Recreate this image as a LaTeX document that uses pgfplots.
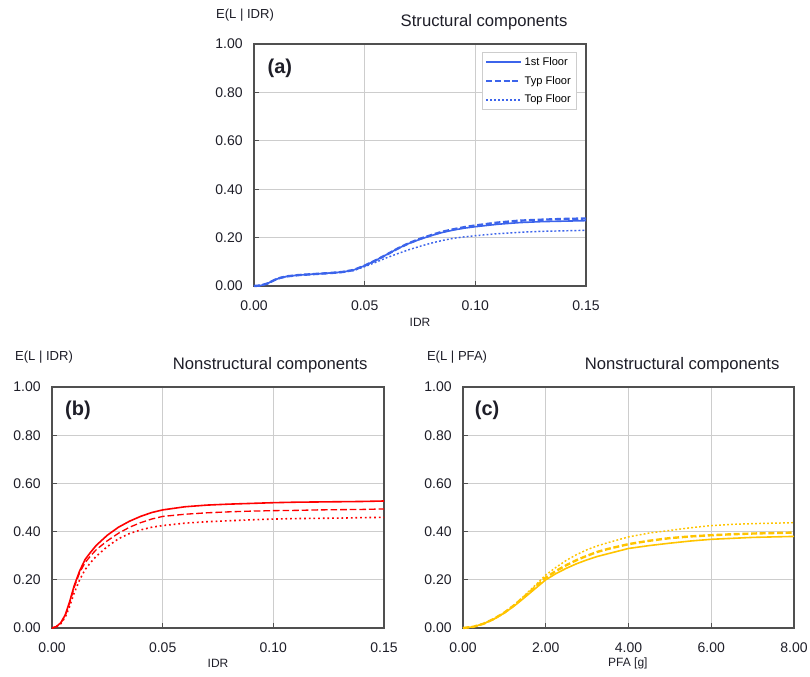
\documentclass[border=0pt]{standalone}
\usepackage{pgfplots}
\usepackage{pgfplotstable}
\pgfplotsset{compat=1.18}
\usepackage{fontspec}
\setmainfont{Liberation Sans}

\definecolor{sblue}{RGB}{60,100,235}
\definecolor{nred}{RGB}{255,0,0}
\definecolor{pyel}{RGB}{255,196,0}
\definecolor{gridgray}{RGB}{205,205,205}
\definecolor{axgray}{RGB}{80,80,80}
\definecolor{txt}{RGB}{30,30,40}

% structural, IDR
\pgfplotstableread{
x      first  typ    top
0      0      0      0
0.003  0.002  0.002  0.002
0.006  0.010  0.010  0.010
0.008  0.019  0.019  0.019
0.010  0.028  0.028  0.028
0.012  0.034  0.034  0.034
0.015  0.040  0.040  0.040
0.020  0.045  0.045  0.045
0.025  0.048  0.048  0.048
0.030  0.051  0.051  0.051
0.035  0.054  0.054  0.054
0.040  0.058  0.058  0.057
0.045  0.066  0.066  0.064
0.050  0.084  0.084  0.080
0.055  0.106  0.106  0.098
0.060  0.130  0.130  0.117
0.065  0.155  0.155  0.134
0.070  0.176  0.177  0.150
0.075  0.193  0.195  0.164
0.080  0.208  0.210  0.177
0.085  0.221  0.224  0.188
0.090  0.231  0.234  0.197
0.095  0.239  0.243  0.203
0.100  0.245  0.250  0.208
0.110  0.255  0.262  0.216
0.120  0.262  0.270  0.222
0.130  0.266  0.274  0.226
0.140  0.268  0.277  0.228
0.150  0.270  0.279  0.230
}\tabA

% nonstructural, IDR
\pgfplotstableread{
x       first  typ    top
0       0      0      0
0.002   0.006  0.006  0.005
0.004   0.022  0.021  0.018
0.006   0.055  0.052  0.045
0.008   0.110  0.105  0.090
0.010   0.175  0.168  0.145
0.0125  0.237  0.230  0.200
0.015   0.285  0.272  0.243
0.0175  0.315  0.300  0.272
0.020   0.343  0.325  0.298
0.025   0.385  0.362  0.338
0.030   0.418  0.393  0.370
0.035   0.443  0.418  0.392
0.040   0.463  0.437  0.407
0.045   0.479  0.452  0.418
0.050   0.490  0.463  0.425
0.060   0.503  0.472  0.435
0.070   0.510  0.478  0.441
0.080   0.514  0.482  0.445
0.090   0.517  0.485  0.449
0.100   0.520  0.487  0.452
0.110   0.522  0.488  0.454
0.120   0.523  0.490  0.455
0.130   0.524  0.491  0.456
0.140   0.525  0.492  0.458
0.150   0.527  0.494  0.459
}\tabB

% nonstructural, PFA
\pgfplotstableread{
x     first  typ    top
0     0      0      0
0.25  0.005  0.005  0.005
0.50  0.018  0.018  0.018
0.75  0.037  0.038  0.038
1.00  0.062  0.064  0.065
1.25  0.093  0.096  0.098
1.50  0.128  0.133  0.137
1.75  0.164  0.171  0.178
2.00  0.200  0.209  0.220
2.25  0.226  0.237  0.252
2.50  0.248  0.261  0.281
2.75  0.267  0.282  0.305
3.00  0.283  0.300  0.325
3.25  0.297  0.316  0.341
3.50  0.308  0.328  0.354
4.00  0.330  0.348  0.378
4.50  0.342  0.362  0.394
5.00  0.352  0.373  0.405
5.50  0.361  0.380  0.416
6.00  0.368  0.385  0.425
6.50  0.372  0.389  0.430
7.00  0.376  0.392  0.433
7.50  0.378  0.394  0.435
8.00  0.380  0.396  0.437
}\tabC

\pgfplotsset{
  panel/.style={
    scale only axis,
    anchor=south west,
    clip=false,
    ymin=0, ymax=1,
    ytick={0,0.2,0.4,0.6,0.8,1},
    grid=major,
    grid style={gridgray, line width=0.8pt},
    axis line style={axgray, line width=1.1pt},
    tick align=inside,
    tick pos=left,
    major tick length=3.5pt,
    tick style={axgray, line width=0.8pt},
    /pgf/number format/assume math mode=true,
    ticklabel style={font=\fontsize{10.5}{12}\selectfont, text=txt},
    yticklabel style={xshift=-5pt, /pgf/number format/.cd, fixed, fixed zerofill, precision=2},
    xticklabel style={yshift=-7.5pt, /pgf/number format/.cd, fixed, fixed zerofill, precision=2},
    scaled ticks=false,
    xlabel style={font=\fontsize{9}{10}\selectfont, text=txt, anchor=center},
  },
  sfirst/.style={line width=1.2pt},
  styp/.style={line width=1.8pt, dash pattern=on 4.5pt off 2pt},
  stop/.style={line width=1.1pt, dash pattern=on 1.4pt off 1.6pt},
  nfirst/.style={line width=1.2pt},
  ntyp/.style={line width=1.0pt, dash pattern=on 5pt off 2.2pt},
  ntop/.style={line width=1.2pt, dash pattern=on 1.3pt off 2.2pt},
}

\newcommand{\tfont}{\fontsize{12.5}{14}\selectfont}
\newcommand{\lfont}{\fontsize{9.8}{11}\selectfont}
\newcommand{\pfont}{\fontsize{15}{17}\selectfont\bfseries}

\begin{document}
\begin{tikzpicture}
\path[use as bounding box] (0,0) rectangle (607.5pt,507pt);

% (a) structural
\begin{axis}[panel,
  at={(190.5pt,292.5pt)}, width=249pt, height=181.5pt,
  xmin=0, xmax=0.15, xtick={0,0.05,0.1,0.15},
  xlabel={IDR}, xlabel style={at={(rel axis cs:0.5,-0.149)}},
  legend style={at={(rel axis cs:0.972,0.967)}, anchor=north east,
    draw=gridgray, line width=0.8pt, font=\fontsize{8.3}{9}\selectfont,
    inner xsep=2pt, inner ysep=1.5pt, row sep=2.6pt, cells={anchor=west},
    /tikz/every even column/.append style={column sep=0pt}},
  legend image code/.code={\draw[#1] (0pt,0pt) -- (26pt,0pt);},
]
\addplot[draw=sblue, sfirst] table[x=x, y=first] {\tabA};
\addlegendentry{1st Floor}
\addplot[draw=sblue, styp] table[x=x, y=typ] {\tabA};
\addlegendentry{Typ Floor}
\addplot[draw=sblue, stop] table[x=x, y=top] {\tabA};
\addlegendentry{Top Floor}
\node[font=\lfont, text=txt] at (rel axis cs:-0.027,1.12) {E(L | IDR)};
\node[font=\tfont, text=txt] at (rel axis cs:0.693,1.091) {Structural components};
\node[font=\pfont, text=txt] at (rel axis cs:0.078,0.90) {(a)};
\end{axis}

% (b) nonstructural IDR
\begin{axis}[panel,
  at={(39pt,36pt)}, width=249pt, height=180.75pt,
  xmin=0, xmax=0.15, xtick={0,0.05,0.1,0.15},
  xlabel={IDR}, xlabel style={at={(rel axis cs:0.5,-0.145)}},
]
\addplot[draw=nred, nfirst] table[x=x, y=first] {\tabB};
\addplot[draw=nred, ntyp] table[x=x, y=typ] {\tabB};
\addplot[draw=nred, ntop] table[x=x, y=top] {\tabB};
\node[font=\lfont, text=txt] at (rel axis cs:-0.024,1.124) {E(L | IDR)};
\node[font=\tfont, text=txt] at (rel axis cs:0.657,1.091) {Nonstructural components};
\node[font=\pfont, text=txt] at (rel axis cs:0.078,0.905) {(b)};
\end{axis}

% (c) nonstructural PFA
\begin{axis}[panel,
  at={(347.25pt,36pt)}, width=248.25pt, height=180.75pt,
  xmin=0, xmax=8, xtick={0,2,4,6,8},
  xlabel={PFA [g]}, xlabel style={at={(rel axis cs:0.498,-0.145)}},
]
\addplot[draw=pyel, nfirst] table[x=x, y=first] {\tabC};
\addplot[draw=pyel, styp] table[x=x, y=typ] {\tabC};
\addplot[draw=pyel, stop] table[x=x, y=top] {\tabC};
\node[font=\lfont, text=txt] at (rel axis cs:-0.018,1.124) {E(L | PFA)};
\node[font=\tfont, text=txt] at (rel axis cs:0.662,1.091) {Nonstructural components};
\node[font=\pfont, text=txt] at (rel axis cs:0.073,0.905) {(c)};
\end{axis}
\end{tikzpicture}
\end{document}
